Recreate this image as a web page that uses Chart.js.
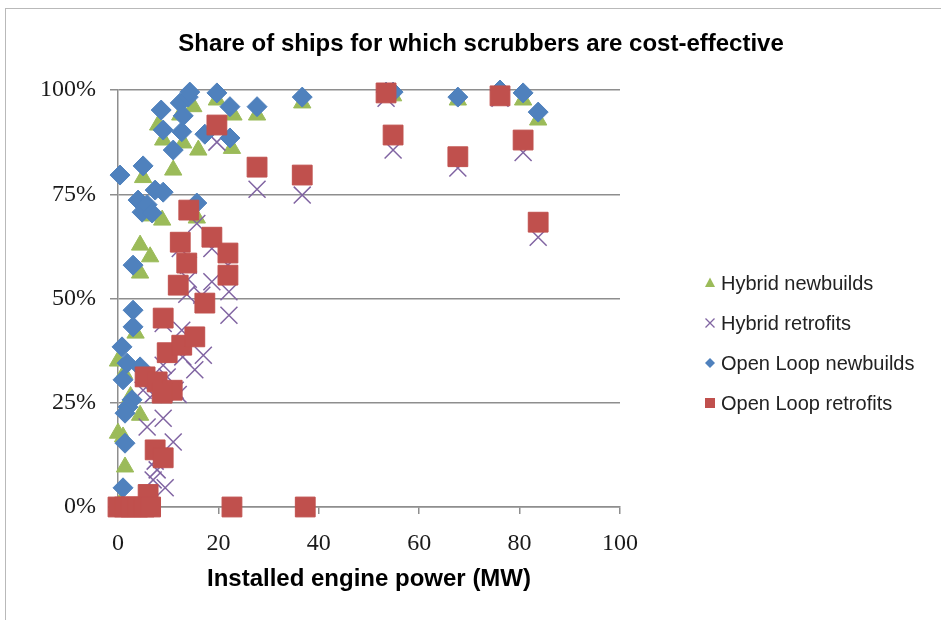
<!DOCTYPE html>
<html>
<head>
<meta charset="utf-8">
<title>Share of ships for which scrubbers are cost-effective</title>
<script src="https://cdn.jsdelivr.net/npm/chart.js@4.4.1/dist/chart.umd.min.js"></script>
<style>
  html, body { margin: 0; padding: 0; background: #fff; }
  #wrap { position: relative; width: 941px; height: 620px; overflow: hidden; }
  #frame { position: absolute; left: 5px; top: 8px; right: -10px; bottom: -10px;
           border-left: 1px solid #b9b9b9; border-top: 1px solid #b9b9b9; pointer-events: none; }
</style>
</head>
<body>
<div id="wrap"><canvas id="chart"></canvas><div id="frame"></div></div>
<script>
// Титулы и подписи
const chartTitle = 'Share of ships for which scrubbers are cost-effective';
const xTitle = 'Installed engine power (MW)';
const seriesNames = ['Hybrid newbuilds', 'Hybrid retrofits', 'Open Loop newbuilds', 'Open Loop retrofits'];
const seriesColors = ['#9BBB59', '#8064A2', '#4F81BD', '#C0504D'];

// Точки [мощность, МВт; доля, %]
const hybridNewbuilds = [
  [5, 79], [8, 91.6], [9, 88], [11, 80.8], [13, 87.3], [12.4, 94], [15, 96], [16, 85.6],
  [19.7, 97.6], [22.7, 86], [23, 94], [27.7, 94], [36.7, 96.9], [54.8, 98.6], [67.7, 97.6],
  [76.1, 99.3], [80.7, 97.6], [83.7, 92.8],
  [6.5, 69.8], [8.8, 68.8], [15.7, 69.3], [4.4, 62.8], [6.4, 60], [4.4, 56.1], [3.5, 41.7],
  [0, 35], [1.2, 32], [2.5, 26.5], [4.4, 22], [0, 17.7], [1, 16.8], [1.4, 9.6], [0.5, 1]
];
const hybridRetrofits = [
  [83.7, 64.7], [80.7, 85], [76.1, 98], [67.7, 81.3], [54.8, 85.6], [53.4, 98], [36.7, 74.8],
  [27.7, 76.2], [19.7, 87.5], [22.1, 51.6], [22.1, 46], [18.7, 54], [14, 54.6], [16.7, 50.8],
  [12.7, 42.4], [17, 36.4], [15.3, 32.9], [12.9, 36], [11.4, 28], [9.8, 31.2], [12, 27],
  [11, 15.6], [9, 21.3], [5.8, 19.2], [7.8, 8.9], [9.4, 4.6], [7, 6.5], [14, 58], [15.7, 68],
  [18.7, 62], [21.9, 58], [12.4, 62], [9, 44], [9, 34], [7.4, 11], [5, 28], [7, 27], [13.7, 51]
];
const openLoopNewbuilds = [
  [0.4, 79.6], [5, 81.8], [8.6, 95.2], [9, 90.4], [11, 85.6], [12.4, 96.9], [12.7, 90], [13, 93.8],
  [14, 98.3], [14.3, 99.5], [17.3, 89.4], [19.7, 99.3], [22.3, 96], [22.3, 88.5], [27.7, 96],
  [36.7, 98.3], [53.4, 99.5], [54.8, 99.5], [67.7, 98.3], [76.1, 100], [80.7, 99.3], [83.7, 94.7],
  [4, 73.6], [4.8, 70.7], [5.8, 72.5], [6.8, 70.5], [7.4, 76], [9, 75.5], [15.7, 72.9],
  [3, 58], [3, 47.2], [3, 43.2], [0.8, 38.4], [1.8, 34.5], [1, 30.5], [4.4, 33.6], [2.8, 25.7],
  [2, 24], [1.4, 22.5], [1.4, 15.3], [1, 4.6], [0, 0], [2, 0]
];
const openLoopRetrofits = [
  [83.7, 68.3], [80.7, 88], [76.1, 98.6], [67.7, 84], [54.8, 89.2], [53.4, 99.3], [36.7, 79.6],
  [27.7, 81.5], [19.7, 91.6], [14.1, 71.2], [12.4, 63.5], [18.7, 64.7], [21.9, 60.9], [13.7, 58.5],
  [21.9, 55.6], [12, 53.2], [17.3, 48.9], [9, 45.3], [9.8, 37], [12.7, 38.8], [15.3, 40.8],
  [5.4, 31.2], [7.8, 30], [10.8, 28], [8.8, 27.3], [7.4, 13.7], [9, 11.8], [6, 3],
  [0, 0], [1.3, 0], [2.6, 0], [3.9, 0], [5.2, 0], [6.5, 0], [22.7, 0], [37.3, 0]
];

const xTicks = [0, 20, 40, 60, 80, 100];
const yTicks = [0, 25, 50, 75, 100];

const gridColor = '#8e8e8e';

function toPoints(arr) {
  return arr.map(p => ({ x: p[0], y: p[1] }));
}

// Маленькие маркеры для легенды
function drawMarker(ctx, style, x, y, color) {
  ctx.save();
  ctx.fillStyle = color;
  ctx.strokeStyle = color;
  ctx.beginPath();
  if (style === 'triangle') {
    ctx.moveTo(x, y - 5.5); ctx.lineTo(x + 5, y + 4); ctx.lineTo(x - 5, y + 4);
    ctx.closePath(); ctx.fill();
  } else if (style === 'crossRot') {
    ctx.lineWidth = 1.3;
    ctx.moveTo(x - 4.5, y - 4.5); ctx.lineTo(x + 4.5, y + 4.5);
    ctx.moveTo(x + 4.5, y - 4.5); ctx.lineTo(x - 4.5, y + 4.5);
    ctx.stroke();
  } else if (style === 'rectRot') {
    ctx.moveTo(x, y - 5); ctx.lineTo(x + 5, y); ctx.lineTo(x, y + 5); ctx.lineTo(x - 5, y);
    ctx.closePath(); ctx.fill();
  } else {
    ctx.rect(x - 5, y - 5, 10, 10); ctx.fill();
  }
  ctx.restore();
}

const pointStyles = ['triangle', 'crossRot', 'rectRot', 'rect'];

const titleLegendPlugin = {
  id: 'titleLegend',
  afterDraw(chart) {
    const ctx = chart.ctx;
    ctx.save();
    ctx.fillStyle = '#000';
    ctx.font = 'bold 24px "Liberation Sans Narrow", "Arial Narrow", sans-serif';
    ctx.textAlign = 'center';
    ctx.textBaseline = 'middle';
    ctx.fillText(chartTitle, 481, 44);

    ctx.font = '20px "Liberation Sans", Arial, sans-serif';
    ctx.textAlign = 'left';
    ctx.fillStyle = '#222';
    seriesNames.forEach((name, i) => {
      const y = 283 + i * 40;
      drawMarker(ctx, pointStyles[i], 710, y, seriesColors[i]);
      ctx.fillText(name, 721, y + 1);
    });
    ctx.restore();
  }
};

new Chart(document.getElementById('chart'), {
  type: 'scatter',
  data: {
    datasets: [
      {
        label: seriesNames[0], data: toPoints(hybridNewbuilds), order: 4, clip: false,
        pointStyle: 'triangle', pointRadius: 10, backgroundColor: seriesColors[0],
        borderColor: seriesColors[0], borderWidth: 1
      },
      {
        label: seriesNames[1], data: toPoints(hybridRetrofits), order: 3, clip: false,
        pointStyle: 'crossRot', pointRadius: 12, backgroundColor: seriesColors[1],
        borderColor: seriesColors[1], borderWidth: 1.5
      },
      {
        label: seriesNames[2], data: toPoints(openLoopNewbuilds), order: 2, clip: false,
        pointStyle: 'rectRot', pointRadius: 10, backgroundColor: seriesColors[2],
        borderColor: seriesColors[2], borderWidth: 1
      },
      {
        label: seriesNames[3], data: toPoints(openLoopRetrofits), order: 1, clip: false,
        pointStyle: 'rect', pointRadius: 14, backgroundColor: seriesColors[3],
        borderColor: seriesColors[3], borderWidth: 1
      }
    ]
  },
  options: {
    responsive: true,
    maintainAspectRatio: false,
    animation: false,
    events: [],
    layout: { padding: { top: 90, right: 321, left: 0, bottom: 0 } },
    plugins: {
      legend: { display: false },
      title: { display: false },
      tooltip: { enabled: false }
    },
    scales: {
      x: {
        type: 'linear',
        min: 0,
        max: 100,
        afterBuildTicks: s => { s.ticks = xTicks.map(v => ({ value: v })); },
        afterFit: s => { s.height = 113; },
        ticks: {
          font: { family: '"Liberation Serif", "Times New Roman", serif', size: 24 },
          color: '#1a1a1a',
          padding: 15,
          maxRotation: 0
        },
        grid: { drawOnChartArea: false, drawTicks: true, tickLength: 7, color: gridColor, lineWidth: 1.5 },
        border: { display: true, color: gridColor, width: 1.5 },
        title: {
          display: true,
          text: xTitle,
          color: '#000',
          font: { family: '"Liberation Sans Narrow", "Arial Narrow", sans-serif', size: 24, weight: 'bold' },
          padding: { top: 0, bottom: 26 }
        }
      },
      y: {
        min: 0,
        max: 100,
        afterBuildTicks: s => { s.ticks = yTicks.map(v => ({ value: v })); },
        afterFit: s => { s.width = 118; },
        ticks: {
          font: { family: '"Liberation Serif", "Times New Roman", serif', size: 24 },
          color: '#1a1a1a',
          padding: 14,
          callback: v => v + '%'
        },
        grid: { color: gridColor, lineWidth: 1.5, tickLength: 8 },
        border: { display: true, color: gridColor, width: 1.5 }
      }
    }
  },
  plugins: [titleLegendPlugin]
});
</script>
</body>
</html>
